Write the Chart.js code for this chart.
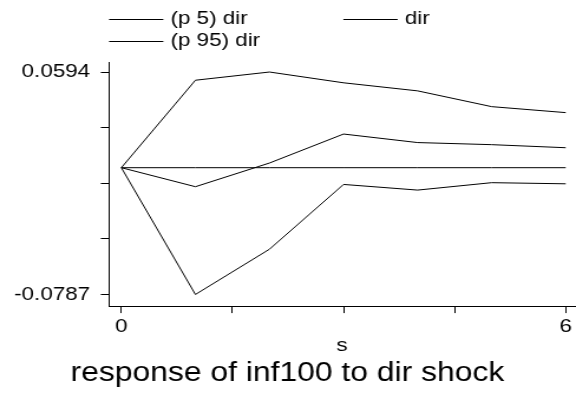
<!DOCTYPE html>
<html>
<head>
<meta charset="utf-8">
<script src="https://cdn.jsdelivr.net/npm/chart.js@4.4.1/dist/chart.umd.min.js"></script>
<style>
  html, body { margin: 0; padding: 0; background: #fff; overflow: hidden; }
  /* the reference is stretched sideways, so draw narrower and scale the box */
  #wrap { width: 488px; height: 393px; transform: scaleX(1.1803); transform-origin: 0 0; }
</style>
</head>
<body>
<div id="wrap"><canvas id="irfChart" width="488" height="393"></canvas></div>
<script>
// data
const steps = [0, 1, 2, 3, 4, 5, 6];
const p5 = [0, -0.0787, -0.0506, -0.0104, -0.0139, -0.0093, -0.0100];
const irf = [0, -0.0118, 0.0029, 0.0209, 0.0156, 0.0143, 0.0124];
const p95 = [0, 0.0543, 0.0594, 0.0527, 0.0477, 0.0379, 0.0342];
const zeroLine = [0, 0, 0, 0, 0, 0, 0];
const yTickLabels = [-0.0787, 0.0594];
const xTickLabels = [0, 6];

const FONT = 'Arial, "Liberation Sans", Helvetica, sans-serif';
const ink = '#000';

function pts(arr) {
  return steps.map((s, i) => ({ x: s, y: arr[i] }));
}

// y ticks: the two labelled ends plus 3 unlabelled ones between
const yLo = yTickLabels[0], yHi = yTickLabels[yTickLabels.length - 1];
const yTicks = [0, 1, 2, 3, 4].map(i => yLo + (yHi - yLo) * i / 4);
const xTicks = [0, 1, 2, 3, 4].map(i => xTickLabels[0] + (xTickLabels[1] - xTickLabels[0]) * i / 4);

// legend laid out in two columns like the original
const legendPlugin = {
  id: 'twoColLegend',
  afterDraw(chart) {
    const ctx = chart.ctx;
    const items = chart.data.datasets.filter(d => d.label);
    const cols = [92.4, 290.9];
    const rows = [19, 41];
    ctx.save();
    ctx.font = '19px ' + FONT;
    ctx.fillStyle = ink;
    ctx.textBaseline = 'middle';
    items.forEach((d, i) => {
      const x = cols[i % 2], y = rows[Math.floor(i / 2)];
      ctx.strokeStyle = d.borderColor;
      ctx.lineWidth = 1;
      ctx.beginPath();
      ctx.moveTo(x, y + 0.5);
      ctx.lineTo(x + 46, y + 0.5);
      ctx.stroke();
      ctx.fillText(d.label, x + 52, y);
    });
    ctx.restore();
  }
};

const ctx = document.getElementById('irfChart').getContext('2d');
const irfChart = new Chart(ctx, {
  type: 'line',
  data: {
    datasets: [
      { label: '(p 5) dir', data: pts(p5), borderColor: ink, borderWidth: 1, pointRadius: 0, tension: 0 },
      { label: 'dir', data: pts(irf), borderColor: ink, borderWidth: 1, pointRadius: 0, tension: 0 },
      { label: '(p 95) dir', data: pts(p95), borderColor: ink, borderWidth: 1, pointRadius: 0, tension: 0 },
      { label: '', data: pts(zeroLine), borderColor: ink, borderWidth: 1, pointRadius: 0, tension: 0 }
    ]
  },
  options: {
    responsive: false,
    animation: false,
    layout: { padding: { top: 62, right: 1, left: 0, bottom: 0 } },
    plugins: {
      legend: { display: false },
      tooltip: { enabled: false },
      title: {
        display: true,
        position: 'bottom',
        text: 'response of inf100 to dir shock',
        color: ink,
        font: { family: FONT, size: 27, weight: 'normal', lineHeight: 1.2 },
        padding: { top: 0, bottom: 3.5 }
      }
    },
    scales: {
      x: {
        type: 'linear',
        min: -0.166,
        max: 6.123,
        afterBuildTicks: scale => { scale.ticks = xTicks.map(v => ({ value: v })); },
        afterFit: scale => { scale.height = 51; },
        ticks: {
          color: ink,
          font: { family: FONT, size: 19 },
          padding: 2,
          maxRotation: 0,
          callback: v => (xTickLabels.includes(v) ? String(v) : '')
        },
        grid: { drawOnChartArea: false, drawTicks: true, tickLength: 7, color: ink },
        border: { display: true, color: ink, width: 1 },
        title: {
          display: true,
          text: 's',
          color: ink,
          font: { family: FONT, size: 19, lineHeight: 1 },
          padding: { top: 0, bottom: 1.5 }
        }
      },
      y: {
        type: 'linear',
        min: -0.08592,
        max: 0.06562,
        afterBuildTicks: scale => { scale.ticks = yTicks.map(v => ({ value: v })); },
        afterFit: scale => { scale.width = 92.4; },
        ticks: {
          color: ink,
          font: { family: FONT, size: 19 },
          padding: 9,
          callback: (v, i) => (i === 0 || i === yTicks.length - 1 ? String(yTickLabels[i ? 1 : 0]) : '')
        },
        grid: { drawOnChartArea: false, drawTicks: true, tickLength: 7, color: ink },
        border: { display: true, color: ink, width: 1 }
      }
    }
  },
  plugins: [legendPlugin]
});
</script>
</body>
</html>
